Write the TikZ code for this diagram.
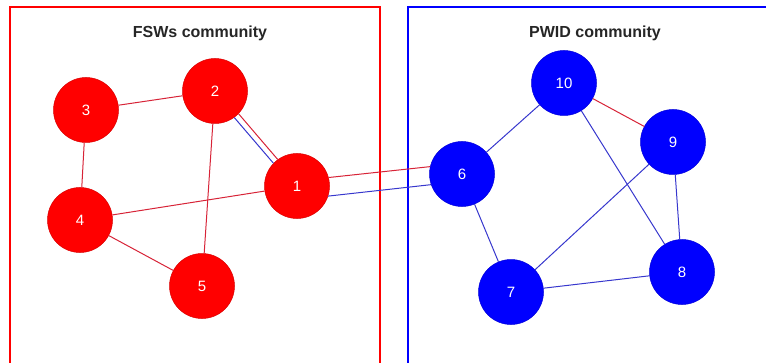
\documentclass[tikz,border=0pt]{standalone}
\usepackage{fontspec}
\setmainfont{Liberation Sans}
\definecolor{nred}{rgb}{1,0,0}
\definecolor{nblue}{rgb}{0,0,1}
\definecolor{ered}{RGB}{215,35,55}
\definecolor{eblue}{RGB}{55,55,205}
\begin{document}
\begin{tikzpicture}[x=1pt,y=1pt,
  rnode/.style={circle,fill=nred,draw=red!85!black,line width=0.5pt,minimum size=65pt,inner sep=0pt,text=white,font=\fontsize{15}{17}\selectfont},
  bnode/.style={circle,fill=nblue,draw=blue!85!black,line width=0.5pt,minimum size=65pt,inner sep=0pt,text=white,font=\fontsize{15}{17}\selectfont},
  redge/.style={draw=ered,line width=1pt},
  bedge/.style={draw=eblue,line width=1pt},
  title/.style={font=\bfseries\fontsize{16}{18}\selectfont,text=black!85}]
\useasboundingbox (0,0) rectangle (766,362);
\draw[nred,line width=1.3pt] (10,-2) rectangle (380,355);
\draw[nblue,line width=1.3pt] (408,-2) rectangle (768,355);
\node[title] (t1) at (200,329) {FSWs community};
\node[title] (t2) at (595,329) {PWID community};
\node[rnode] (n1) at (297,176) {1};
\node[rnode] (n2) at (215,271) {2};
\node[rnode] (n3) at (86,252) {3};
\node[rnode] (n4) at (80,142) {4};
\node[rnode] (n5) at (202,76) {5};
\node[bnode] (n6) at (462,188) {6};
\node[bnode] (n7) at (511,70) {7};
\node[bnode] (n8) at (682,90) {8};
\node[bnode] (n9) at (673,220) {9};
\node[bnode] (n10) at (564,279) {10};
% FSW edges
\draw[redge] (n3) -- (n2);
\draw[redge] (n3) -- (n4);
\draw[redge] (n4) -- (n1);
\draw[redge] (n4) -- (n5);
\draw[redge] (n2) -- (n5);
\draw[redge] (n2.-44) -- (n1.126);
\draw[bedge] (n2.-54) -- (n1.136);
% bridge edges
\draw[redge] (n1.15) -- (n6.167);
\draw[bedge] (n1.-18) -- (n6.-161);
% PWID edges
\draw[bedge] (n6) -- (n10);
\draw[bedge] (n6) -- (n7);
\draw[redge] (n10) -- (n9);
\draw[bedge] (n10) -- (n8);
\draw[bedge] (n9) -- (n7);
\draw[bedge] (n9) -- (n8);
\draw[bedge] (n7) -- (n8);
\end{tikzpicture}
\end{document}
